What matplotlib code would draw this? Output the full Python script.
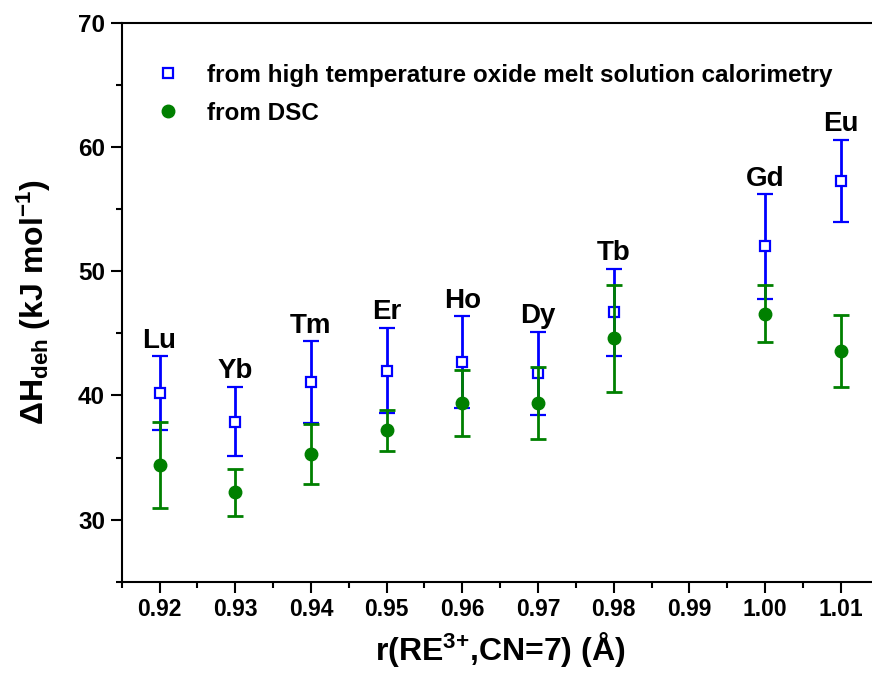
import matplotlib
matplotlib.use("Agg")
import matplotlib.pyplot as plt
from matplotlib.lines import Line2D
from matplotlib.ticker import MultipleLocator, FormatStrFormatter

# Rare-earth ionic radii (CN=7) and dehydration enthalpies
elements = ["Lu", "Yb", "Tm", "Er", "Ho", "Dy", "Tb", "Gd", "Eu"]
radius = [0.92, 0.93, 0.94, 0.95, 0.96, 0.97, 0.98, 1.00, 1.01]

calorimetry = [40.2, 37.9, 41.1, 42.0, 42.7, 41.8, 46.7, 52.0, 57.3]
calorimetry_err = [2.95, 2.8, 3.3, 3.45, 3.7, 3.35, 3.5, 4.2, 3.3]

dsc = [34.4, 32.2, 35.3, 37.2, 39.4, 39.4, 44.6, 46.6, 43.6]
dsc_err = [3.5, 1.9, 2.4, 1.65, 2.65, 2.9, 4.3, 2.3, 2.9]

labels = ["from high temperature oxide melt solution calorimetry", "from DSC"]

plt.rcParams["font.family"] = ["Liberation Sans", "DejaVu Sans"]
plt.rcParams["font.weight"] = "bold"
plt.rcParams["mathtext.fontset"] = "custom"
plt.rcParams["mathtext.rm"] = "Liberation Sans:bold"
plt.rcParams["mathtext.it"] = "Liberation Sans:bold"
plt.rcParams["mathtext.bf"] = "Liberation Sans:bold"
plt.rcParams["mathtext.default"] = "regular"

W, H = 872, 674
fig = plt.figure(figsize=(W / 100, H / 100), dpi=100)
left, right, bottom, top = 121.7, 878.6, 581.7, 23.0
ax = fig.add_axes([left / W, (H - bottom) / H, (right - left) / W, (bottom - top) / H])

blue = "#0000ff"
green = "#008000"
sq_style = dict(marker="s", color=blue, mfc="white", mec=blue, mew=1.6, ms=7)
ci_style = dict(marker="o", color=green, mfc=green, mec=green, ms=9)

ax.errorbar(radius, calorimetry, yerr=calorimetry_err, linestyle="none",
            elinewidth=2.0, capsize=6, capthick=2.0, zorder=3, **sq_style)
ax.errorbar(radius, dsc, yerr=dsc_err, linestyle="none",
            elinewidth=2.0, capsize=6, capthick=2.0, zorder=4, **ci_style)

for name, x, y, e in zip(elements, radius, calorimetry, calorimetry_err):
    ax.annotate(name, xy=(x, y + e), xytext=(0, 6), textcoords="offset points",
                ha="center", va="baseline", fontsize=20, fontweight="bold")

ax.set_xlim(0.915, 1.015)
ax.set_ylim(25, 70)
ax.xaxis.set_major_locator(MultipleLocator(0.01))
ax.xaxis.set_minor_locator(MultipleLocator(0.005))
ax.xaxis.set_major_formatter(FormatStrFormatter("%.2f"))
ax.yaxis.set_major_locator(MultipleLocator(10))
ax.yaxis.set_minor_locator(MultipleLocator(5))

for s in ax.spines.values():
    s.set_linewidth(1.5)
ax.tick_params(which="major", direction="out", length=8, width=1.5, pad=4)
ax.tick_params(axis="x", which="major", labelsize=16.5)
ax.tick_params(axis="y", which="major", labelsize=17.5)
ax.tick_params(which="minor", direction="out", length=4.5, width=1.5)
for lab in ax.get_xticklabels() + ax.get_yticklabels():
    lab.set_fontweight("bold")

ax.set_xlabel("r(RE$^{3{+}}$,CN=7) (Å)", fontsize=23, fontweight="bold", labelpad=6)
ax.set_ylabel("ΔH$_{deh}$ (kJ mol$^{-1}$)", fontsize=23, fontweight="bold", labelpad=18)

handles = [Line2D([], [], linestyle="none", **sq_style),
           Line2D([], [], linestyle="none", **ci_style)]
leg = ax.legend(handles, labels, loc="upper left", bbox_to_anchor=(0.052, 0.927),
                frameon=False, fontsize=17.5, handlelength=0.6, handletextpad=1.3,
                labelspacing=0.62, borderaxespad=0, borderpad=0)
for t in leg.get_texts():
    t.set_fontweight("bold")

fig.savefig("out.png", dpi=100)
